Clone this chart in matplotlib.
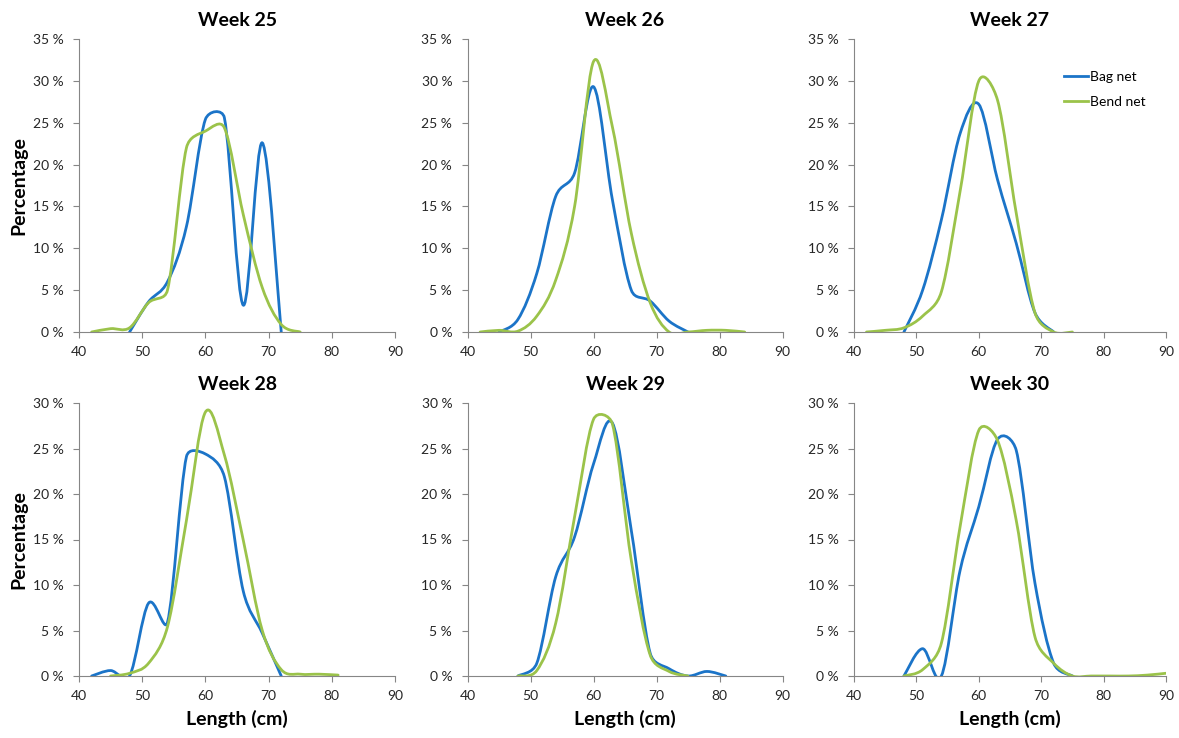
import matplotlib
matplotlib.use('Agg')
import matplotlib.pyplot as plt
from matplotlib.path import Path
from matplotlib.patches import PathPatch
from matplotlib.lines import Line2D
import numpy as np

plt.rcParams['font.family'] = ['Lato', 'DejaVu Sans']

# length classes (cm) and percentages
w25_bag_len = [48, 51, 54, 57, 60, 63, 66, 69, 72]
w25_bag_pct = [0, 3.6, 6.0, 12.6, 25.4, 25.6, 3.2, 22.6, 0]
w25_bend_len = [42, 45, 48, 51, 54, 57, 60, 63, 66, 69, 72, 75]
w25_bend_pct = [0, 0.4, 0.5, 3.5, 5.0, 22.0, 24.0, 24.4, 14.0, 5.3, 0.9, 0]

w26_bag_len = [45, 48, 51, 54, 57, 60, 63, 66, 69, 72, 75]
w26_bag_pct = [0, 1.5, 7.0, 16.2, 19.0, 29.3, 15.8, 5.0, 3.7, 1.3, 0]
w26_bend_len = [42, 45, 48, 51, 54, 57, 60, 63, 66, 69, 72, 75, 78, 81, 84]
w26_bend_pct = [0, 0.2, 0.1, 1.9, 6.2, 15.0, 32.3, 24.5, 11.8, 3.5, 0, 0, 0.2, 0.2, 0]

w27_bag_len = [48, 51, 54, 57, 60, 63, 66, 69, 72]
w27_bag_pct = [0, 5.0, 13.4, 23.7, 27.2, 18.2, 10.6, 2.3, 0]
w27_bend_len = [42, 45, 48, 51, 54, 57, 60, 63, 66, 69, 72, 75]
w27_bend_pct = [0, 0.2, 0.5, 1.9, 4.8, 16.8, 30.0, 27.7, 14.2, 2.3, 0, 0]

w28_bag_len = [42, 45, 48, 51, 54, 57, 60, 63, 66, 69, 72]
w28_bag_pct = [0, 0.6, 0, 8.0, 5.9, 24.1, 24.4, 21.9, 9.3, 4.7, 0]
w28_bend_len = [45, 48, 51, 54, 57, 60, 63, 66, 69, 72, 75, 78, 81]
w28_bend_pct = [0, 0.3, 1.4, 5.4, 17.1, 29.0, 24.3, 14.9, 5.0, 0.7, 0.2, 0.2, 0.1]

w29_bag_len = [48, 51, 54, 57, 60, 63, 66, 69, 72, 75, 78, 81]
w29_bag_pct = [0, 1.4, 10.9, 15.3, 23.3, 27.8, 16.0, 2.5, 0.8, 0, 0.5, 0]
w29_bend_len = [48, 51, 54, 57, 60, 63, 66, 69, 72, 75]
w29_bend_pct = [0, 0.6, 5.8, 17.5, 28.2, 27.7, 12.7, 2.3, 0.5, 0]

w30_bag_len = [48, 51, 54, 57, 60, 63, 66, 69, 72, 75]
w30_bag_pct = [0, 3.0, 0, 11.6, 18.6, 26.0, 24.8, 10.2, 1.4, 0]
w30_bend_len = [48, 51, 54, 57, 60, 63, 66, 69, 72, 75, 78, 81, 84, 87, 90]
w30_bend_pct = [0, 0.7, 3.6, 16.4, 27.0, 25.9, 17.1, 4.3, 1.4, 0, 0, 0, 0, 0.1, 0.3]

weeks = ['Week 25', 'Week 26', 'Week 27', 'Week 28', 'Week 29', 'Week 30']
series_names = ['Bag net', 'Bend net']
x_ticks = [40, 50, 60, 70, 80, 90]
y_max_top = 35
y_max_bottom = 30

bag = [(w25_bag_len, w25_bag_pct), (w26_bag_len, w26_bag_pct), (w27_bag_len, w27_bag_pct),
       (w28_bag_len, w28_bag_pct), (w29_bag_len, w29_bag_pct), (w30_bag_len, w30_bag_pct)]
bend = [(w25_bend_len, w25_bend_pct), (w26_bend_len, w26_bend_pct), (w27_bend_len, w27_bend_pct),
        (w28_bend_len, w28_bend_pct), (w29_bend_len, w29_bend_pct), (w30_bend_len, w30_bend_pct)]

blue = '#1B74C8'
green = '#9BC34A'
grey = '#868686'


def smooth_line(ax, xs, ys, color):
    # Excel-like smoothed line: bezier segments, control arms capped in screen space
    pts = np.column_stack([xs, ys]).astype(float)
    disp = ax.transData.transform(pts)
    n = len(pts)
    verts = [pts[0]]
    codes = [Path.MOVETO]
    for i in range(n - 1):
        i0, i3 = max(i - 1, 0), min(i + 2, n - 1)
        p0, p1, p2, p3 = pts[i0], pts[i], pts[i + 1], pts[i3]
        d02 = np.hypot(*(disp[i + 1] - disp[i0]))
        d12 = np.hypot(*(disp[i + 1] - disp[i]))
        d13 = np.hypot(*(disp[i3] - disp[i]))
        f1 = f2 = 1 / 6
        if d02 > 0 and d02 / 6 > d12 / 2:
            f1 = d12 / 2 / d02
        if d13 > 0 and d13 / 6 > d12 / 2:
            f2 = d12 / 2 / d13
        verts += [p1 + f1 * (p2 - p0), p2 - f2 * (p3 - p1), p2]
        codes += [Path.CURVE4] * 3
    ax.add_patch(PathPatch(Path(verts, codes), fill=False, edgecolor=color,
                           linewidth=2.0, capstyle='round', joinstyle='round'))


fig = plt.figure(figsize=(11.79, 7.38), dpi=100)

lefts = [79 / 1179, 467.5 / 1179, 854 / 1179]
widths = [316 / 1179, 315 / 1179, 312 / 1179]
bottoms = [1 - 332 / 738, 1 - 676 / 738]
heights = [293 / 738, 273 / 738]

for k in range(6):
    row, col = divmod(k, 3)
    ax = fig.add_axes([lefts[col], bottoms[row], widths[col], heights[row]])
    ymax = y_max_top if row == 0 else y_max_bottom
    ax.set_xlim(40, 90)
    ax.set_ylim(0, ymax)
    ax.set_xticks(x_ticks)
    ax.set_yticks(list(range(0, ymax + 1, 5)))
    ax.set_yticklabels([f'{v} %' for v in range(0, ymax + 1, 5)])
    for s in ['top', 'right']:
        ax.spines[s].set_visible(False)
    for s in ['left', 'bottom']:
        ax.spines[s].set_color(grey)
        ax.spines[s].set_linewidth(0.8)
    ax.tick_params(axis='both', direction='out', length=4, width=0.8, color=grey,
                   labelsize=10, labelcolor='#262626')
    ax.tick_params(axis='y', pad=7)
    ax.tick_params(axis='x', pad=6)

    smooth_line(ax, bag[k][0], bag[k][1], blue)
    smooth_line(ax, bend[k][0], bend[k][1], green)

    ax.set_title(weeks[k], fontsize=14, fontweight='bold', pad=9)
    if col == 0:
        ax.set_ylabel('Percentage', fontsize=14, fontweight='bold', labelpad=4)
    if row == 1:
        ax.set_xlabel('Length (cm)', fontsize=14, fontweight='bold', labelpad=6)
    if k == 2:
        handles = [Line2D([], [], color=blue, linewidth=2.0),
                   Line2D([], [], color=green, linewidth=2.0)]
        ax.legend(handles, series_names, loc='upper left', bbox_to_anchor=(0.673, 0.89),
                  frameon=False, fontsize=10, handlelength=1.7, handletextpad=0.15,
                  labelspacing=0.9, borderpad=0, borderaxespad=0)

fig.savefig('out.png', dpi=100)
